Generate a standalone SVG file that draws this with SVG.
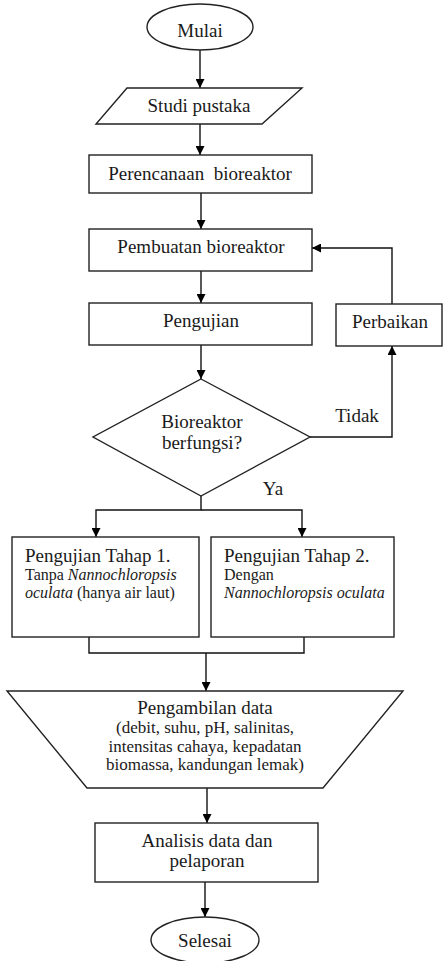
<svg xmlns="http://www.w3.org/2000/svg" width="443" height="961" viewBox="0 0 443 961">
<defs>
<marker id="arr" viewBox="0 0 10 10" refX="10" refY="5" markerWidth="9" markerHeight="9" markerUnits="userSpaceOnUse" orient="auto">
<path d="M0,0 L10,5 L0,10 z" fill="#000"/>
</marker>
<style>
.s{fill:#fff;stroke:#222;stroke-width:1.4}
.c{fill:none;stroke:#111;stroke-width:1.4}
.t{font-family:"Liberation Serif","DejaVu Serif",serif;font-size:19px;fill:#1a1a1a;text-anchor:middle}
.m{font-size:17px}
.n{font-size:16px}
.l{text-anchor:start}
.i{font-style:italic}
</style>
</defs>
<rect width="443" height="961" fill="#fff"/>
<g id="connectors">
<line class="c" x1="200" y1="50" x2="200" y2="88" marker-end="url(#arr)"/>
<line class="c" x1="200" y1="124" x2="200" y2="155" marker-end="url(#arr)"/>
<line class="c" x1="201" y1="193" x2="201" y2="229" marker-end="url(#arr)"/>
<line class="c" x1="201" y1="271" x2="201" y2="303" marker-end="url(#arr)"/>
<line class="c" x1="201" y1="345" x2="201" y2="379" marker-end="url(#arr)"/>
<polyline class="c" points="392,304 392,248 312,248" marker-end="url(#arr)"/>
<polyline class="c" points="310,437 392,437 392,346" marker-end="url(#arr)"/>
<polyline class="c" points="201,496 201,510 96,510 96,537" marker-end="url(#arr)"/>
<polyline class="c" points="201,510 302,510 302,537" marker-end="url(#arr)"/>
<polyline class="c" points="89,637 89,653 304,653 304,637"/>
<line class="c" x1="206" y1="653" x2="206" y2="691" marker-end="url(#arr)"/>
<line class="c" x1="207" y1="788" x2="207" y2="823" marker-end="url(#arr)"/>
<line class="c" x1="205" y1="882" x2="205" y2="917" marker-end="url(#arr)"/>
<text class="t" x="357" y="422">Tidak</text>
<text class="t" x="273" y="495">Ya</text>
</g>
<g id="mulai">
<ellipse class="s" cx="200" cy="27" rx="53" ry="23"/>
<text class="t" x="200" y="37">Mulai</text>
</g>
<g id="studi">
<polygon class="s" points="127,88 302,88 262,124 96,124"/>
<text class="t" x="199" y="112">Studi pustaka</text>
</g>
<g id="perencanaan">
<rect class="s" x="89" y="155" width="223" height="38"/>
<text class="t" x="200" y="180" xml:space="preserve">Perencanaan  bioreaktor</text>
</g>
<g id="pembuatan">
<rect class="s" x="89" y="229" width="223" height="42"/>
<text class="t" x="201" y="253">Pembuatan bioreaktor</text>
</g>
<g id="pengujian">
<rect class="s" x="89" y="303" width="223" height="42"/>
<text class="t" x="201" y="327">Pengujian</text>
</g>
<g id="perbaikan">
<rect class="s" x="336" y="304" width="106" height="42"/>
<text class="t" x="390" y="328">Perbaikan</text>
</g>
<g id="keputusan">
<polygon class="s" points="201,379 310,437 201,496 93,437"/>
<text class="t" x="202" y="428">Bioreaktor</text>
<text class="t" x="202" y="449">berfungsi?</text>
</g>
<g id="tahap1">
<rect class="s" x="12" y="537" width="187" height="100"/>
<text class="t l" x="25" y="562">Pengujian Tahap 1.</text>
<text class="t l n" x="25" y="580">Tanpa <tspan class="i">Nannochloropsis</tspan></text>
<text class="t l n" x="25" y="598"><tspan class="i">oculata</tspan> (hanya air laut)</text>
</g>
<g id="tahap2">
<rect class="s" x="211" y="537" width="183" height="100"/>
<text class="t l" x="224" y="562">Pengujian Tahap 2.</text>
<text class="t l n" x="224" y="580">Dengan</text>
<text class="t l n i" x="224" y="598">Nannochloropsis oculata</text>
</g>
<g id="pengambilan">
<polygon class="s" points="7,691 403,691 323,788 87,788"/>
<text class="t" x="205" y="714">Pengambilan data</text>
<text class="t m" x="205" y="733">(debit, suhu, pH, salinitas,</text>
<text class="t m" x="205" y="752">intensitas cahaya, kepadatan</text>
<text class="t m" x="205" y="770">biomassa, kandungan lemak)</text>
</g>
<g id="analisis">
<rect class="s" x="95" y="823" width="223" height="59"/>
<text class="t" x="207" y="847">Analisis data dan</text>
<text class="t" x="207" y="867">pelaporan</text>
</g>
<g id="selesai">
<ellipse class="s" cx="205" cy="940" rx="54" ry="23"/>
<text class="t" x="205" y="947">Selesai</text>
</g>
</svg>
